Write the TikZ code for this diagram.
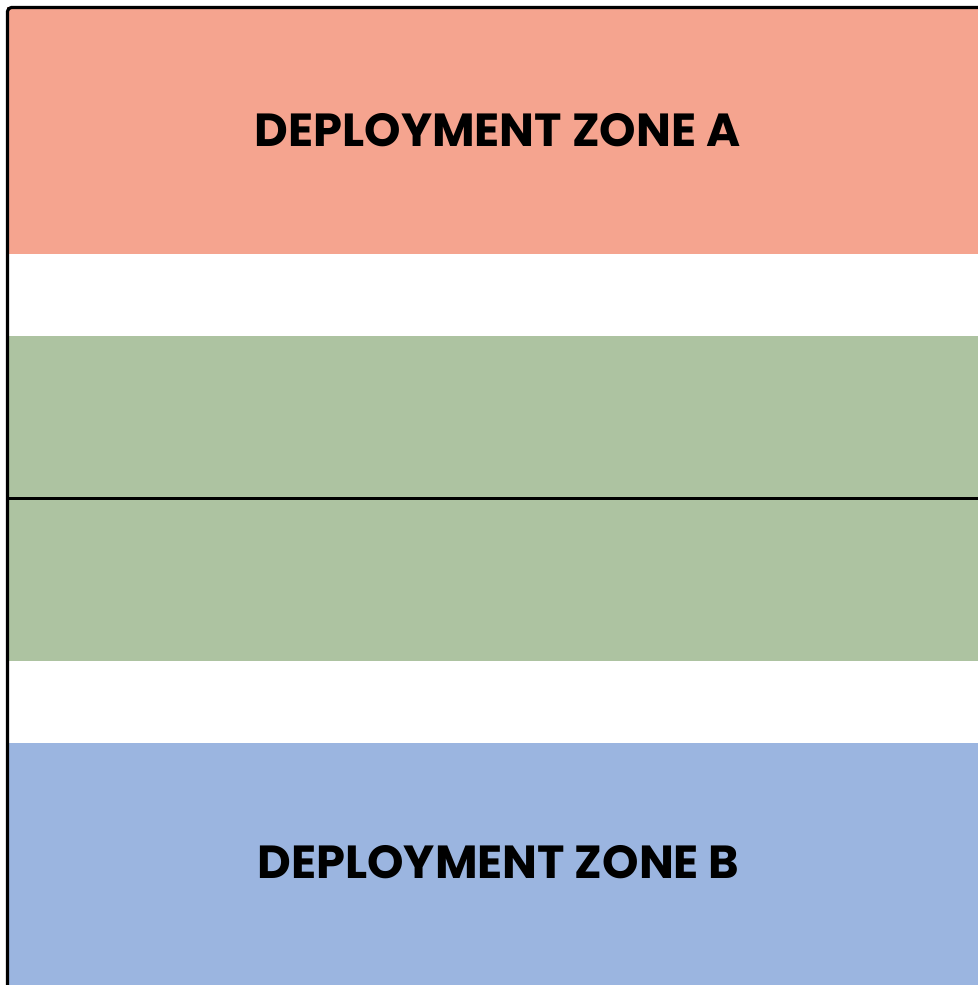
\documentclass[tikz,border=0pt]{standalone}
\usepackage{fontspec}
\setmainfont{Poppins}
\definecolor{Zone-A}{RGB}{245,164,143}
\definecolor{Zone-M}{RGB}{173,195,161}
\definecolor{Zone-B}{RGB}{155,181,224}
\begin{document}
\begin{tikzpicture}[x=0.5pt, y=-0.5pt]
  \useasboundingbox (0, 0) rectangle (978, 985);

  \node[fill=Zone-A, inner sep=0pt, minimum width=485.5pt, minimum height=123.5pt] (zoneA) at (492.5, 130.5) {};
  \node[fill=Zone-M, inner sep=0pt, minimum width=485.5pt, minimum height=81pt] (mid1) at (492.5, 417) {};
  \node[fill=Zone-M, inner sep=0pt, minimum width=485.5pt, minimum height=81.5pt] (mid2) at (492.5, 579.5) {};
  \node[fill=Zone-B, inner sep=0pt, minimum width=485.5pt, minimum height=121pt] (zoneB) at (492.5, 864) {};

  \node[font=\bfseries\fontsize{23.2}{28}\selectfont] (labelA) at (497.5, 130) {DEPLOYMENT ZONE A};
  \node[font=\bfseries\fontsize{23.2}{28}\selectfont] (labelB) at (498.5, 862) {DEPLOYMENT ZONE B};

  \draw[black, line width=1.6pt, rounded corners=2pt] (7.5, 985) -- (7.5, 7.5) -- (978, 7.5);
  \draw[black, line width=1.6pt] (mid1.south west) -- (mid1.south east);
\end{tikzpicture}
\end{document}
